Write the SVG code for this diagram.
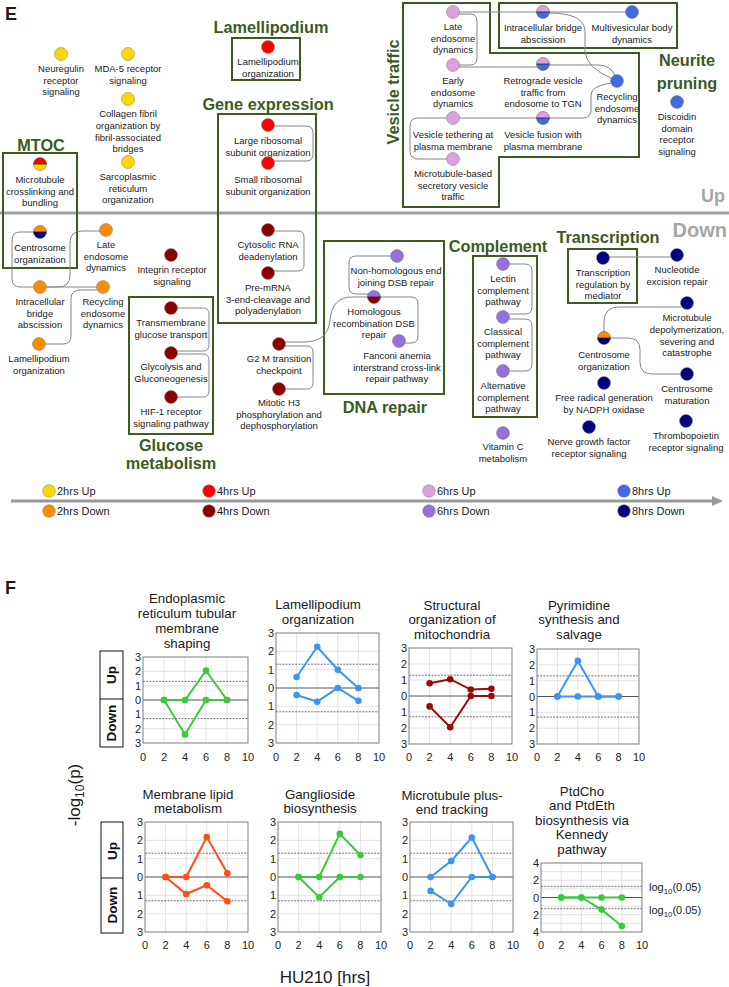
<svg xmlns="http://www.w3.org/2000/svg" xmlns:xlink="http://www.w3.org/1999/xlink" width="729" height="987" viewBox="0 0 729 987">
<style>
text{font-family:"Liberation Sans",Arial,sans-serif;fill:#1a1a1a}
.n text{font-size:9.5px;text-anchor:middle}
.d{stroke:#7a7a7a;stroke-width:0.5}
.y2u{fill:#FFD700}.o2d{fill:#FF8C00}.r4u{fill:#FF0000}.d4d{fill:#8B0000}.p6u{fill:#DDA0DD}.m6d{fill:#9370DB}.b8u{fill:#4169E1}.n8d{fill:#000080}
.cn path{fill:none;stroke:#858585;stroke-width:1}
.gb{fill:none;stroke:#3c5a22;stroke-width:2}
.gt{font-weight:bold;font-size:16.3px;fill:#3c5a22;text-anchor:middle}
.ud{font-weight:bold;fill:#a6a6a6;text-anchor:end}
.lg text{font-size:11px}
.ct{font-size:13.3px;text-anchor:middle}
.tk{font-size:11px;text-anchor:middle;fill:#222}
.yt{font-size:11px;text-anchor:end;fill:#222}
.bg{fill:#fff}
.grid{stroke:#dadada;stroke-width:0.8;fill:none}
.thr{stroke:#333;stroke-width:0.7;stroke-dasharray:2 1.2;fill:none}
.zero{stroke:#555;stroke-width:1;fill:none}
.frame{fill:none;stroke:#7f7f7f;stroke-width:1}
.udb{fill:#fff;stroke:#111;stroke-width:1}
.udt{font-weight:bold;font-size:13.5px;text-anchor:middle;fill:#111}
.sG{fill:none;stroke:#3CC83C;stroke-width:2;marker-start:url(#pG);marker-mid:url(#pG);marker-end:url(#pG)}
.sB{fill:none;stroke:#3A96F3;stroke-width:2;marker-start:url(#pB);marker-mid:url(#pB);marker-end:url(#pB)}
.sR{fill:none;stroke:#9B0A0A;stroke-width:2;marker-start:url(#pR);marker-mid:url(#pR);marker-end:url(#pR)}
.sO{fill:none;stroke:#FF4F12;stroke-width:2;marker-start:url(#pO);marker-mid:url(#pO);marker-end:url(#pO)}
</style>
<defs>
<path id="th" d="M-6.5,0A6.5,6.5 0 0 1 6.5,0Z"/>
<path id="bh" d="M-6.5,0A6.5,6.5 0 0 0 6.5,0Z"/>
<g id="ho"><circle r="6.5" fill="none" stroke="#555" stroke-width="0.5"/><path d="M-6.5,0H6.5" stroke="#222" stroke-width="0.8"/></g>
<marker id="ah" markerUnits="userSpaceOnUse" markerWidth="11" markerHeight="10" refX="0" refY="5" orient="auto" viewBox="0 0 11 10"><path d="M0,0L11,5L0,10Z" fill="#999"/></marker>
<marker id="pG" markerUnits="userSpaceOnUse" markerWidth="8" markerHeight="8" refX="4" refY="4" viewBox="0 0 8 8"><circle cx="4" cy="4" r="3.3" fill="#3CC83C"/></marker>
<marker id="pB" markerUnits="userSpaceOnUse" markerWidth="8" markerHeight="8" refX="4" refY="4" viewBox="0 0 8 8"><circle cx="4" cy="4" r="3.3" fill="#3A96F3"/></marker>
<marker id="pR" markerUnits="userSpaceOnUse" markerWidth="8" markerHeight="8" refX="4" refY="4" viewBox="0 0 8 8"><circle cx="4" cy="4" r="3.3" fill="#9B0A0A"/></marker>
<marker id="pO" markerUnits="userSpaceOnUse" markerWidth="8" markerHeight="8" refX="4" refY="4" viewBox="0 0 8 8"><circle cx="4" cy="4" r="3.3" fill="#FF4F12"/></marker>
</defs>
<rect width="729" height="987" fill="#fff"/>

<!-- Panel E -->
<text x="5" y="20" font-size="18" font-weight="bold" fill="#000">E</text>
<path d="M0,213H729" stroke="#a0a0a0" stroke-width="3"/>
<text class="ud" x="725" y="202" font-size="18">Up</text>
<text class="ud" x="727" y="237" font-size="20">Down</text>

<!-- group boxes -->
<g id="groups">
<rect class="gb" x="3" y="153" width="74" height="115"/>
<text class="gt" x="41" y="151" font-size="18">MTOC</text>
<rect class="gb" x="232" y="38" width="68" height="42"/>
<text class="gt" x="271" y="33">Lamellipodium</text>
<rect class="gb" x="218" y="114" width="98" height="209"/>
<text class="gt" x="268" y="110">Gene expression</text>
<path class="gb" d="M403,3H490V53H639V157H499V207H403Z"/>
<text class="gt" transform="rotate(-90 399 92)" x="399" y="92">Vesicle traffic</text>
<rect class="gb" x="499" y="3" width="178" height="45"/>
<text class="gt" x="687" y="66" font-size="17">Neurite</text>
<text class="gt" x="687" y="89" font-size="17">pruning</text>
<rect class="gb" x="129" y="297" width="84" height="137"/>
<text class="gt" x="171" y="451">Glucose</text>
<text class="gt" x="171" y="469">metabolism</text>
<rect class="gb" x="324" y="241" width="120" height="153"/>
<text class="gt" x="385" y="413">DNA repair</text>
<rect class="gb" x="473" y="256" width="64" height="161"/>
<text class="gt" x="498" y="252">Complement</text>
<rect class="gb" x="568" y="249" width="69" height="54"/>
<text class="gt" x="608" y="243">Transcription</text>
</g>

<g id="connectors" class="cn">
<path d="M459,12H537"/>
<path d="M549,12H626"/>
<path d="M459,14H470Q477,14 477,21V58Q477,65 470,65H459"/>
<path d="M459,67H537"/>
<path d="M549,65H598Q610,65 615,75"/>
<path d="M549,13Q583,13 585,30V52Q587,68 611,78"/>
<path d="M459,118H537"/>
<path d="M549,118H583Q591,118 591,110V95Q591,86 611,83"/>
<path d="M447,118H418Q410,118 410,126V151Q410,159 418,159H447"/>
<path d="M34,232H20Q12,232 12,240V279Q12,287 20,287H34"/>
<path d="M46,287H58Q70,287 70,275V243Q70,231 82,231H100"/>
<path d="M46,287H97"/>
<path d="M97,290H80Q71,290 71,299V336Q71,344 63,344H45"/>
<path d="M177,308H203Q209,308 209,314V345Q209,351 203,351H177"/>
<path d="M177,354H203Q209,354 209,360V391Q209,397 203,397H177"/>
<path d="M274,126H306Q313,126 313,133V154Q313,161 306,161H274"/>
<path d="M274,231H298Q304,231 304,237V265Q304,271 298,271H274"/>
<path d="M285,346H307Q313,346 313,352V383Q313,389 307,389H285"/>
<path d="M285,342H304Q328,342 330,320Q332,297 352,297H368"/>
<path d="M391,256H356Q349,256 349,263V287Q349,294 356,294H369"/>
<path d="M380,297H411Q418,297 418,304V336Q418,343 411,343H405"/>
<path d="M509,264H525Q532,264 532,271V307Q532,314 525,314H509"/>
<path d="M509,319H525Q532,319 532,326V364Q532,371 525,371H509"/>
<path d="M609,257H671"/>
<path d="M604,332V322Q604,307 619,307H681"/>
<path d="M610,338H628Q640,338 640,350V362Q640,374 652,374H681"/>
</g>

<!-- Up nodes -->
<g id="n-neuregulin" class="n"><circle class="d y2u" cx="61" cy="54" r="6.5"/><text x="61" y="72">Neuregulin<tspan x="61" dy="11.7">receptor</tspan><tspan x="61" dy="11.7">signaling</tspan></text></g>
<g id="n-mda5" class="n"><circle class="d y2u" cx="128" cy="54" r="6.5"/><text x="128" y="72">MDA-5 receptor<tspan x="128" dy="11.7">signaling</tspan></text></g>
<g id="n-collagen" class="n"><circle class="d y2u" cx="128" cy="99" r="6.5"/><text x="128" y="117">Collagen fibril<tspan x="128" dy="11.8">organization by</tspan><tspan x="128" dy="11.8">fibril-associated</tspan><tspan x="128" dy="11.8">bridges</tspan></text></g>
<g id="n-sarco" class="n"><circle class="d y2u" cx="128" cy="162" r="6.5"/><text x="128" y="180">Sarcoplasmic<tspan x="128" dy="11.7">reticulum</tspan><tspan x="128" dy="11.7">organization</tspan></text></g>
<g id="n-mtcross" class="n"><use xlink:href="#th" href="#th" x="40" y="164" class="r4u"/><use xlink:href="#bh" href="#bh" x="40" y="164" class="y2u"/><use xlink:href="#ho" href="#ho" x="40" y="164"/><text x="40" y="183">Microtubule<tspan x="40" dy="11.7">crosslinking and</tspan><tspan x="40" dy="11.7">bundling</tspan></text></g>
<g id="n-lamelli-up" class="n"><circle class="d r4u" cx="268" cy="47" r="6.5"/><text x="268" y="65">Lamellipodium<tspan x="268" dy="11.7">organization</tspan></text></g>
<g id="n-large-ribo" class="n"><circle class="d r4u" cx="268" cy="125" r="6.5"/><text x="268" y="144">Large ribosomal<tspan x="268" dy="11.7">subunit organization</tspan></text></g>
<g id="n-small-ribo" class="n"><circle class="d r4u" cx="268" cy="163" r="6.5"/><text x="268" y="183">Small ribosomal<tspan x="268" dy="11.7">subunit organization</tspan></text></g>
<g id="n-late-up" class="n"><circle class="d p6u" cx="453" cy="12" r="6.5"/><text x="453" y="30">Late<tspan x="453" dy="11.7">endosome</tspan><tspan x="453" dy="11.7">dynamics</tspan></text></g>
<g id="n-early" class="n"><circle class="d p6u" cx="453" cy="65" r="6.5"/><text x="453" y="84">Early<tspan x="453" dy="11.7">endosome</tspan><tspan x="453" dy="11.7">dynamics</tspan></text></g>
<g id="n-tether" class="n"><circle class="d p6u" cx="453" cy="118" r="6.5"/><text x="453" y="138">Vesicle tethering at<tspan x="453" dy="11.7">plasma membrane</tspan></text></g>
<g id="n-mtsecr" class="n"><circle class="d p6u" cx="453" cy="159" r="6.5"/><text x="453" y="177">Microtubule-based<tspan x="453" dy="11.7">secretory vesicle</tspan><tspan x="453" dy="11.7">traffic</tspan></text></g>
<g id="n-bridge-up" class="n"><use xlink:href="#th" href="#th" x="543" y="12" class="p6u"/><use xlink:href="#bh" href="#bh" x="543" y="12" class="b8u"/><use xlink:href="#ho" href="#ho" x="543" y="12"/><text x="543" y="31">Intracellular bridge<tspan x="543" dy="11.7">abscission</tspan></text></g>
<g id="n-mvb" class="n"><circle class="d b8u" cx="632" cy="12" r="6.5"/><text x="632" y="31">Multivesicular body<tspan x="632" dy="11.7">dynamics</tspan></text></g>
<g id="n-retro" class="n"><use xlink:href="#th" href="#th" x="543" y="64" class="p6u"/><use xlink:href="#bh" href="#bh" x="543" y="64" class="b8u"/><use xlink:href="#ho" href="#ho" x="543" y="64"/><text x="543" y="84">Retrograde vesicle<tspan x="543" dy="11.7">traffic from</tspan><tspan x="543" dy="11.7">endosome to TGN</tspan></text></g>
<g id="n-recyc-up" class="n"><circle class="d b8u" cx="617" cy="81" r="6.5"/><text x="617" y="100">Recycling<tspan x="617" dy="11.7">endosome</tspan><tspan x="617" dy="11.7">dynamics</tspan></text></g>
<g id="n-fusion" class="n"><use xlink:href="#th" href="#th" x="543" y="118" class="p6u"/><use xlink:href="#bh" href="#bh" x="543" y="118" class="b8u"/><use xlink:href="#ho" href="#ho" x="543" y="118"/><text x="543" y="138">Vesicle fusion with<tspan x="543" dy="11.7">plasma membrane</tspan></text></g>
<g id="n-discoidin" class="n"><circle class="d b8u" cx="677" cy="102" r="6.5"/><text x="677" y="120">Discoidin<tspan x="677" dy="11.7">domain</tspan><tspan x="677" dy="11.7">receptor</tspan><tspan x="677" dy="11.7">signaling</tspan></text></g>

<!-- Down nodes -->
<g id="n-centro2" class="n"><use xlink:href="#th" href="#th" x="40" y="232" class="o2d"/><use xlink:href="#bh" href="#bh" x="40" y="232" class="n8d"/><use xlink:href="#ho" href="#ho" x="40" y="232"/><text x="40" y="251">Centrosome<tspan x="40" dy="11.7">organization</tspan></text></g>
<g id="n-late-down" class="n"><circle class="d o2d" cx="106" cy="230" r="6.5"/><text x="106" y="248">Late<tspan x="106" dy="11.7">endosome</tspan><tspan x="106" dy="11.7">dynamics</tspan></text></g>
<g id="n-bridge-down" class="n"><circle class="d o2d" cx="40" cy="287" r="6.5"/><text x="40" y="305">Intracellular<tspan x="40" dy="11.7">bridge</tspan><tspan x="40" dy="11.7">abscission</tspan></text></g>
<g id="n-recyc-down" class="n"><circle class="d o2d" cx="103" cy="287" r="6.5"/><text x="103" y="305">Recycling<tspan x="103" dy="11.7">endosome</tspan><tspan x="103" dy="11.7">dynamics</tspan></text></g>
<g id="n-lamelli-down" class="n"><circle class="d o2d" cx="39" cy="344" r="6.5"/><text x="39" y="362">Lamellipodium<tspan x="39" dy="11.7">organization</tspan></text></g>
<g id="n-integrin" class="n"><circle class="d d4d" cx="171" cy="255" r="6.5"/><text x="172" y="273">Integrin receptor<tspan x="172" dy="11.7">signaling</tspan></text></g>
<g id="n-transm" class="n"><circle class="d d4d" cx="171" cy="308" r="6.5"/><text x="171" y="326">Transmembrane<tspan x="171" dy="11.7">glucose transport</tspan></text></g>
<g id="n-glyco" class="n"><circle class="d d4d" cx="171" cy="353" r="6.5"/><text x="171" y="370">Glycolysis and<tspan x="171" dy="11.7">Gluconeogenesis</tspan></text></g>
<g id="n-hif1" class="n"><circle class="d d4d" cx="171" cy="397" r="6.5"/><text x="171" y="415">HIF-1 receptor<tspan x="171" dy="11.7">signaling pathway</tspan></text></g>
<g id="n-cytosolic" class="n"><circle class="d d4d" cx="268" cy="230" r="6.5"/><text x="268" y="248">Cytosolic RNA<tspan x="268" dy="11.7">deadenylation</tspan></text></g>
<g id="n-premrna" class="n"><circle class="d d4d" cx="268" cy="273" r="6.5"/><text x="268" y="291">Pre-mRNA<tspan x="268" dy="11.7">3-end-cleavage and</tspan><tspan x="268" dy="11.7">polyadenylation</tspan></text></g>
<g id="n-g2m" class="n"><circle class="d d4d" cx="279" cy="344" r="6.5"/><text x="279" y="362">G2 M transition<tspan x="279" dy="11.7">checkpoint</tspan></text></g>
<g id="n-mitotic" class="n"><circle class="d d4d" cx="279" cy="389" r="6.5"/><text x="279" y="406">Mitotic H3<tspan x="279" dy="11.7">phosphorylation and</tspan><tspan x="279" dy="11.7">dephosphorylation</tspan></text></g>
<g id="n-nhej" class="n"><circle class="d m6d" cx="397" cy="256" r="6.5"/><text x="396" y="274">Non-homologous end<tspan x="396" dy="11.7">joining DSB repair</tspan></text></g>
<g id="n-homol" class="n"><use xlink:href="#th" href="#th" x="374" y="297" class="m6d"/><use xlink:href="#bh" href="#bh" x="374" y="297" class="d4d"/><use xlink:href="#ho" href="#ho" x="374" y="297"/><text x="374" y="315">Homologous<tspan x="374" dy="11.7">recombination DSB</tspan><tspan x="374" dy="11.7">repair</tspan></text></g>
<g id="n-fanconi" class="n"><circle class="d m6d" cx="399" cy="341" r="6.5"/><text x="397" y="359">Fanconi anemia<tspan x="397" dy="11.7">interstrand cross-link</tspan><tspan x="397" dy="11.7">repair pathway</tspan></text></g>
<g id="n-lectin" class="n"><circle class="d m6d" cx="503" cy="264" r="6.5"/><text x="503" y="282">Lectin<tspan x="503" dy="11.7">complement</tspan><tspan x="503" dy="11.7">pathway</tspan></text></g>
<g id="n-classical" class="n"><circle class="d m6d" cx="503" cy="317" r="6.5"/><text x="503" y="335">Classical<tspan x="503" dy="11.7">complement</tspan><tspan x="503" dy="11.7">pathway</tspan></text></g>
<g id="n-altern" class="n"><circle class="d m6d" cx="503" cy="371" r="6.5"/><text x="503" y="389">Alternative<tspan x="503" dy="11.7">complement</tspan><tspan x="503" dy="11.7">pathway</tspan></text></g>
<g id="n-vitc" class="n"><circle class="d m6d" cx="503" cy="433" r="6.5"/><text x="503" y="450">Vitamin C<tspan x="503" dy="11.7">metabolism</tspan></text></g>
<g id="n-transcr" class="n"><circle class="d n8d" cx="603" cy="258" r="6.5"/><text x="603" y="276">Transcription<tspan x="603" dy="11.7">regulation by</tspan><tspan x="603" dy="11.7">mediator</tspan></text></g>
<g id="n-nucleo" class="n"><circle class="d n8d" cx="677" cy="255" r="6.5"/><text x="677" y="273">Nucleotide<tspan x="677" dy="11.7">excision repair</tspan></text></g>
<g id="n-mtdepol" class="n"><circle class="d n8d" cx="687" cy="303" r="6.5"/><text x="687" y="321">Microtubule<tspan x="687" dy="11.8">depolymerization,</tspan><tspan x="687" dy="11.8">severing and</tspan><tspan x="687" dy="11.8">catastrophe</tspan></text></g>
<g id="n-centro8" class="n"><use xlink:href="#th" href="#th" x="604" y="338" class="o2d"/><use xlink:href="#bh" href="#bh" x="604" y="338" class="n8d"/><use xlink:href="#ho" href="#ho" x="604" y="338"/><text x="604" y="358">Centrosome<tspan x="604" dy="11.7">organization</tspan></text></g>
<g id="n-centromat" class="n"><circle class="d n8d" cx="687" cy="374" r="6.5"/><text x="687" y="392">Centrosome<tspan x="687" dy="11.7">maturation</tspan></text></g>
<g id="n-freerad" class="n"><circle class="d n8d" cx="604" cy="383" r="6.5"/><text x="604" y="401">Free radical generation<tspan x="604" dy="11.7">by NADPH oxidase</tspan></text></g>
<g id="n-ngf" class="n"><circle class="d n8d" cx="589" cy="427" r="6.5"/><text x="589" y="445">Nerve growth factor<tspan x="589" dy="11.7">receptor signaling</tspan></text></g>
<g id="n-thrombo" class="n"><circle class="d n8d" cx="686" cy="421" r="6.5"/><text x="686" y="439">Thrombopoietin<tspan x="686" dy="11.7">receptor signaling</tspan></text></g>

<!-- Legend -->
<g id="legend" class="lg">
<path d="M11,501H712" stroke="#999" stroke-width="3" marker-end="url(#ah)"/>
<circle class="d y2u" cx="49" cy="491" r="6.3"/><text x="57" y="495">2hrs Up</text>
<circle class="d o2d" cx="49" cy="511" r="6.3"/><text x="57" y="515">2hrs Down</text>
<circle class="d r4u" cx="209" cy="491" r="6.3"/><text x="217" y="495">4hrs Up</text>
<circle class="d d4d" cx="209" cy="511" r="6.3"/><text x="217" y="515">4hrs Down</text>
<circle class="d p6u" cx="429" cy="491" r="6.3"/><text x="437" y="495">6hrs Up</text>
<circle class="d m6d" cx="429" cy="511" r="6.3"/><text x="437" y="515">6hrs Down</text>
<circle class="d b8u" cx="624" cy="491" r="6.3"/><text x="632" y="495">8hrs Up</text>
<circle class="d n8d" cx="624" cy="511" r="6.3"/><text x="632" y="515">8hrs Down</text>
</g>

<!-- Panel F -->
<text x="5" y="594" font-size="18" font-weight="bold" fill="#000">F</text>
<text transform="rotate(-90 80 795)" x="80" y="795" text-anchor="middle" font-size="17">-log<tspan font-size="12" dy="4">10</tspan><tspan dy="-4">(p)</tspan></text>
<text x="325" y="983" text-anchor="middle" font-size="17">HU210 [hrs]</text>

<g id="updown-top">
<rect class="udb" x="100" y="651" width="23" height="96"/><path d="M100,699H123" stroke="#111"/>
<text class="udt" transform="rotate(-90 116 675)" x="116" y="675">Up</text>
<text class="udt" transform="rotate(-90 116 723)" x="116" y="723">Down</text>
</g>
<g id="updown-bottom">
<rect class="udb" x="101" y="822" width="22" height="111"/><path d="M101,878H123" stroke="#111"/>
<text class="udt" transform="rotate(-90 116.5 851)" x="116.5" y="851">Up</text>
<text class="udt" transform="rotate(-90 116.5 905)" x="116.5" y="905">Down</text>
</g>

<g id="chart-er">
<text class="ct" x="187" y="603">Endoplasmic<tspan x="187" dy="15">reticulum tubular</tspan><tspan x="187" dy="15">membrane</tspan><tspan x="187" dy="15">shaping</tspan></text>
<rect class="bg" x="143" y="657" width="105" height="86"/>
<path class="grid" d="M164,657V743M185,657V743M206,657V743M227,657V743M143,671.3H248M143,685.7H248M143,714.3H248M143,728.7H248"/>
<path class="thr" d="M143,681.4H248M143,718.6H248"/>
<path class="zero" d="M143,700H248"/>
<rect class="frame" x="143" y="657" width="105" height="86"/>
<text class="yt" x="141" y="661">3</text><text class="yt" x="141" y="675.3">2</text><text class="yt" x="141" y="689.7">1</text><text class="yt" x="141" y="704">0</text><text class="yt" x="141" y="718.3">1</text><text class="yt" x="141" y="732.7">2</text><text class="yt" x="141" y="747">3</text>
<text class="tk" x="143" y="761">0</text><text class="tk" x="164" y="761">2</text><text class="tk" x="185" y="761">4</text><text class="tk" x="206" y="761">6</text><text class="tk" x="227" y="761">8</text><text class="tk" x="248" y="761">10</text>
<polyline class="sG" points="164,700 185,700 206,670.6 227,700"/>
<polyline class="sG" points="164,700 185,734.4 206,700 227,700"/>
</g>

<g id="chart-lamelli">
<text class="ct" x="318" y="609">Lamellipodium<tspan x="318" dy="15">organization</tspan></text>
<rect class="bg" x="276" y="633" width="103" height="110"/>
<path class="grid" d="M296.6,633V743M317.2,633V743M337.8,633V743M358.4,633V743M276,651.3H379M276,669.7H379M276,706.3H379M276,724.7H379"/>
<path class="thr" d="M276,664.2H379M276,711.8H379"/>
<path class="zero" d="M276,688H379"/>
<rect class="frame" x="276" y="633" width="103" height="110"/>
<text class="yt" x="274" y="637">3</text><text class="yt" x="274" y="655.3">2</text><text class="yt" x="274" y="673.7">1</text><text class="yt" x="274" y="692">0</text><text class="yt" x="274" y="710.3">1</text><text class="yt" x="274" y="728.7">2</text><text class="yt" x="274" y="747">3</text>
<text class="tk" x="276" y="761">0</text><text class="tk" x="296.6" y="761">2</text><text class="tk" x="317.2" y="761">4</text><text class="tk" x="337.8" y="761">6</text><text class="tk" x="358.4" y="761">8</text><text class="tk" x="379" y="761">10</text>
<polyline class="sB" points="296.6,677 317.2,646.8 337.8,669.7 358.4,688"/>
<polyline class="sB" points="296.6,695 317.2,701.7 337.8,688 358.4,700.8"/>
</g>

<g id="chart-mito">
<text class="ct" x="452" y="610">Structural<tspan x="452" dy="14.3">organization of</tspan><tspan x="452" dy="14.3">mitochondria</tspan></text>
<rect class="bg" x="409" y="648" width="103" height="96"/>
<path class="grid" d="M429.6,648V744M450.2,648V744M470.8,648V744M491.4,648V744M409,664H512M409,680H512M409,712H512M409,728H512"/>
<path class="thr" d="M409,675.2H512M409,716.8H512"/>
<path class="zero" d="M409,696H512"/>
<rect class="frame" x="409" y="648" width="103" height="96"/>
<text class="yt" x="407" y="652">3</text><text class="yt" x="407" y="668">2</text><text class="yt" x="407" y="684">1</text><text class="yt" x="407" y="700">0</text><text class="yt" x="407" y="716">1</text><text class="yt" x="407" y="732">2</text><text class="yt" x="407" y="748">3</text>
<text class="tk" x="409" y="761">0</text><text class="tk" x="429.6" y="761">2</text><text class="tk" x="450.2" y="761">4</text><text class="tk" x="470.8" y="761">6</text><text class="tk" x="491.4" y="761">8</text><text class="tk" x="512" y="761">10</text>
<polyline class="sR" points="429.6,683.2 450.2,679.2 470.8,689.6 491.4,688.8"/>
<polyline class="sR" points="429.6,706.4 450.2,727.2 470.8,696 491.4,696"/>
</g>

<g id="chart-pyrim">
<text class="ct" x="579" y="610">Pyrimidine<tspan x="579" dy="14.3">synthesis and</tspan><tspan x="579" dy="14.3">salvage</tspan></text>
<rect class="bg" x="537" y="649" width="102" height="95"/>
<path class="grid" d="M557.4,649V744M577.8,649V744M598.2,649V744M618.6,649V744M537,664.8H639M537,680.7H639M537,712.3H639M537,728.2H639"/>
<path class="thr" d="M537,675.9H639M537,717.1H639"/>
<path class="zero" d="M537,696.5H639"/>
<rect class="frame" x="537" y="649" width="102" height="95"/>
<text class="yt" x="535" y="653">3</text><text class="yt" x="535" y="668.8">2</text><text class="yt" x="535" y="684.7">1</text><text class="yt" x="535" y="700.5">0</text><text class="yt" x="535" y="716.3">1</text><text class="yt" x="535" y="732.2">2</text><text class="yt" x="535" y="748">3</text>
<text class="tk" x="537" y="761">0</text><text class="tk" x="557.4" y="761">2</text><text class="tk" x="577.8" y="761">4</text><text class="tk" x="598.2" y="761">6</text><text class="tk" x="618.6" y="761">8</text><text class="tk" x="639" y="761">10</text>
<polyline class="sB" points="557.4,696.5 577.8,660.9 598.2,696.5 618.6,696.5"/>
<polyline class="sB" points="557.4,696.5 577.8,696.5 598.2,696.5 618.6,696.5"/>
</g>

<g id="chart-lipid">
<text class="ct" x="188" y="799">Membrane lipid<tspan x="188" dy="14.3">metabolism</tspan></text>
<rect class="bg" x="145" y="822" width="103" height="110"/>
<path class="grid" d="M165.6,822V932M186.2,822V932M206.8,822V932M227.4,822V932M145,840.3H248M145,858.7H248M145,895.3H248M145,913.7H248"/>
<path class="thr" d="M145,853.2H248M145,900.8H248"/>
<path class="zero" d="M145,877H248"/>
<rect class="frame" x="145" y="822" width="103" height="110"/>
<text class="yt" x="143" y="826">3</text><text class="yt" x="143" y="844.3">2</text><text class="yt" x="143" y="862.7">1</text><text class="yt" x="143" y="881">0</text><text class="yt" x="143" y="899.3">1</text><text class="yt" x="143" y="917.7">2</text><text class="yt" x="143" y="936">3</text>
<text class="tk" x="145" y="949">0</text><text class="tk" x="165.6" y="949">2</text><text class="tk" x="186.2" y="949">4</text><text class="tk" x="206.8" y="949">6</text><text class="tk" x="227.4" y="949">8</text><text class="tk" x="248" y="949">10</text>
<polyline class="sO" points="165.6,877 186.2,877 206.8,837 227.4,873.3"/>
<polyline class="sO" points="165.6,877 186.2,894 206.8,885.2 227.4,901.2"/>
</g>

<g id="chart-gang">
<text class="ct" x="320" y="799">Ganglioside<tspan x="320" dy="14.3">biosynthesis</tspan></text>
<rect class="bg" x="278" y="822" width="103" height="110"/>
<path class="grid" d="M298.6,822V932M319.2,822V932M339.8,822V932M360.4,822V932M278,840.3H381M278,858.7H381M278,895.3H381M278,913.7H381"/>
<path class="thr" d="M278,853.2H381M278,900.8H381"/>
<path class="zero" d="M278,877H381"/>
<rect class="frame" x="278" y="822" width="103" height="110"/>
<text class="yt" x="276" y="826">3</text><text class="yt" x="276" y="844.3">2</text><text class="yt" x="276" y="862.7">1</text><text class="yt" x="276" y="881">0</text><text class="yt" x="276" y="899.3">1</text><text class="yt" x="276" y="917.7">2</text><text class="yt" x="276" y="936">3</text>
<text class="tk" x="278" y="949">0</text><text class="tk" x="298.6" y="949">2</text><text class="tk" x="319.2" y="949">4</text><text class="tk" x="339.8" y="949">6</text><text class="tk" x="360.4" y="949">8</text><text class="tk" x="381" y="949">10</text>
<polyline class="sG" points="298.6,877 319.2,877 339.8,833.9 360.4,855"/>
<polyline class="sG" points="298.6,877 319.2,897.2 339.8,877 360.4,877"/>
</g>

<g id="chart-mtplus">
<text class="ct" x="452" y="800">Microtubule plus-<tspan x="452" dy="14.3">end tracking</tspan></text>
<rect class="bg" x="410" y="822" width="103" height="110"/>
<path class="grid" d="M430.6,822V932M451.2,822V932M471.8,822V932M492.4,822V932M410,840.3H513M410,858.7H513M410,895.3H513M410,913.7H513"/>
<path class="thr" d="M410,853.2H513M410,900.8H513"/>
<path class="zero" d="M410,877H513"/>
<rect class="frame" x="410" y="822" width="103" height="110"/>
<text class="yt" x="408" y="826">3</text><text class="yt" x="408" y="844.3">2</text><text class="yt" x="408" y="862.7">1</text><text class="yt" x="408" y="881">0</text><text class="yt" x="408" y="899.3">1</text><text class="yt" x="408" y="917.7">2</text><text class="yt" x="408" y="936">3</text>
<text class="tk" x="410" y="949">0</text><text class="tk" x="430.6" y="949">2</text><text class="tk" x="451.2" y="949">4</text><text class="tk" x="471.8" y="949">6</text><text class="tk" x="492.4" y="949">8</text><text class="tk" x="513" y="949">10</text>
<polyline class="sB" points="430.6,877 451.2,861 471.8,837.6 492.4,877"/>
<polyline class="sB" points="430.6,890.9 451.2,904 471.8,877 492.4,877"/>
</g>

<g id="chart-kennedy">
<text class="ct" x="582" y="796">PtdCho<tspan x="582" dy="14.4">and PtdEth</tspan><tspan x="582" dy="14.4">biosynthesis via</tspan><tspan x="582" dy="14.4">Kennedy</tspan><tspan x="582" dy="14.4">pathway</tspan></text>
<rect class="bg" x="541" y="863" width="101" height="69"/>
<path class="grid" d="M561.2,863V932M581.4,863V932M601.6,863V932M621.8,863V932M541,871.6H642M541,880.25H642M541,888.9H642M541,906.1H642M541,914.75H642M541,923.4H642"/>
<path class="thr" d="M541,886.3H642M541,908.7H642"/>
<path class="zero" d="M541,897.5H642"/>
<rect class="frame" x="541" y="863" width="101" height="69"/>
<text class="yt" x="539" y="867">4</text><text class="yt" x="539" y="884.25">2</text><text class="yt" x="539" y="901.5">0</text><text class="yt" x="539" y="918.75">2</text><text class="yt" x="539" y="936">4</text>
<text class="tk" x="541" y="949">0</text><text class="tk" x="561.2" y="949">2</text><text class="tk" x="581.4" y="949">4</text><text class="tk" x="601.6" y="949">6</text><text class="tk" x="621.8" y="949">8</text><text class="tk" x="642" y="949">10</text>
<polyline class="sG" points="561.2,897.5 581.4,897.5 601.6,897.5 621.8,897.5"/>
<polyline class="sG" points="561.2,897.5 581.4,897.5 601.6,909.6 621.8,926"/>
<text x="649" y="891" font-size="11">log<tspan font-size="7.8" dy="2.5">10</tspan><tspan dy="-2.5">(0.05)</tspan></text>
<text x="649" y="914" font-size="11">log<tspan font-size="7.8" dy="2.5">10</tspan><tspan dy="-2.5">(0.05)</tspan></text>
</g>
</svg>
